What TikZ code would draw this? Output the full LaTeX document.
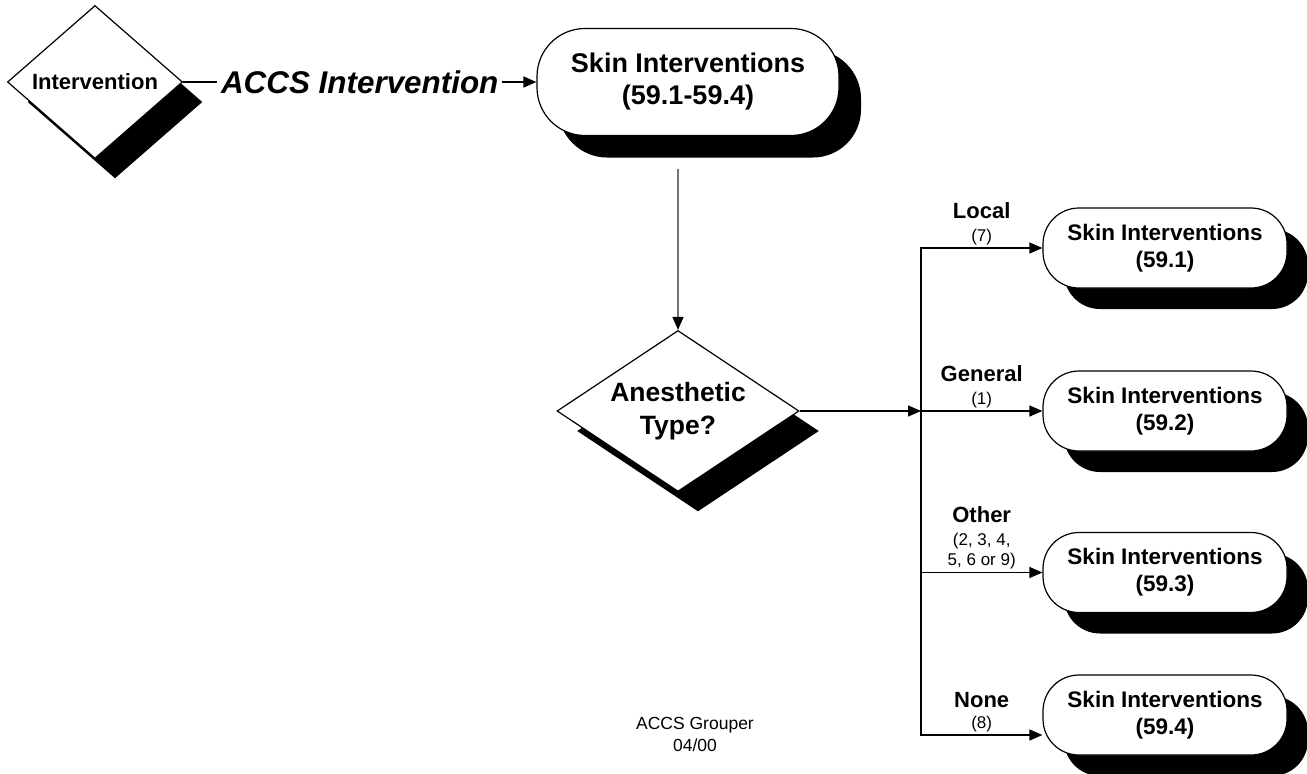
\documentclass[tikz,border=0pt]{standalone}
\usepackage{fontspec}
\setmainfont{Liberation Sans}
\usetikzlibrary{arrows.meta,shapes.geometric,shadows}

\begin{document}
\begin{tikzpicture}[x=1pt, y=-1pt, line width=1.2pt,
  >={Triangle[length=13pt,width=11pt]},
  blackshadow/.style={general shadow={shadow xshift=#1, shadow yshift=-#1, fill=black}},
  decision/.style={diamond, draw, fill=white, inner sep=0pt, align=center, blackshadow=20pt},
  terminal/.style={rectangle, draw, fill=white, rounded corners=36pt, minimum width=244pt,
    minimum height=80pt, align=center, blackshadow=21pt,
    font=\fontsize{22.5}{27}\selectfont\bfseries},
  flow/.style={->},
  grayflow/.style={draw=black!55, -{Triangle[length=13pt,width=11pt,color=black]}},
  branchlabel/.style={above, align=center, inner sep=2.5pt, font=\fontsize{17}{20.5}\selectfont}]
\useasboundingbox (0,0) rectangle (1307,774);

%%%%% Nodes %%%%%
\node[decision, aspect=1.14, minimum width=175pt, minimum height=153pt,
  font=\fontsize{22}{26}\selectfont\bfseries] (intv) at (95,82) {Intervention};
\node[terminal, minimum width=302pt, minimum height=107pt, rounded corners=48pt,
  blackshadow=22pt, font=\fontsize{27}{32}\selectfont\bfseries] (skinall) at (688,82)
  {Skin Interventions\\(59.1-59.4)};
\node[decision, aspect=1.5, minimum width=242pt, minimum height=161pt,
  font=\fontsize{26.5}{33}\selectfont\bfseries] (anes) at (678,411) {Anesthetic\\Type?};
\foreach \nm/\yy/\code in {loc/248/59.1, gen/411/59.2, oth/572.5/59.3, non/715/59.4}{
\node[terminal] (\nm) at (1165,\yy) {Skin Interventions\\(\code)};
}
\node[align=center, font=\fontsize{17.5}{22}\selectfont] (grouper) at (695,734) {ACCS Grouper\\04/00};

\coordinate (jn) at (921,411);
\coordinate (jbot) at (921,735);

%%%%% Connectors %%%%%
\draw[flow] (intv.east) -- node[fill=white, inner sep=4pt,
  font=\fontsize{31.4}{36}\selectfont\bfseries\itshape] {ACCS Intervention} (skinall.west);
\draw[grayflow, shorten <=33pt] (anes.north |- skinall.south) -- (anes.north);
\draw[flow] (anes.east) -- (jn);
\draw[flow] (jn) -- (jn |- loc.west) -- node[branchlabel] {{\fontsize{22}{24}\selectfont\bfseries Local}\\[2pt](7)} (loc.west);
\draw[flow] (jn) -- node[branchlabel] {{\fontsize{22}{24}\selectfont\bfseries General}\\[2pt](1)} (gen.west);
\draw[flow] (jn |- oth.west) -- node[branchlabel] {{\fontsize{22}{24}\selectfont\bfseries Other}\\[2pt](2, 3, 4,\\5, 6 or 9)} (oth.west);
\draw[flow] (jn) -- (jbot) -- node[branchlabel] {{\fontsize{22}{24}\selectfont\bfseries None}\\(8)} (jbot -| non.west);
\end{tikzpicture}
\end{document}
